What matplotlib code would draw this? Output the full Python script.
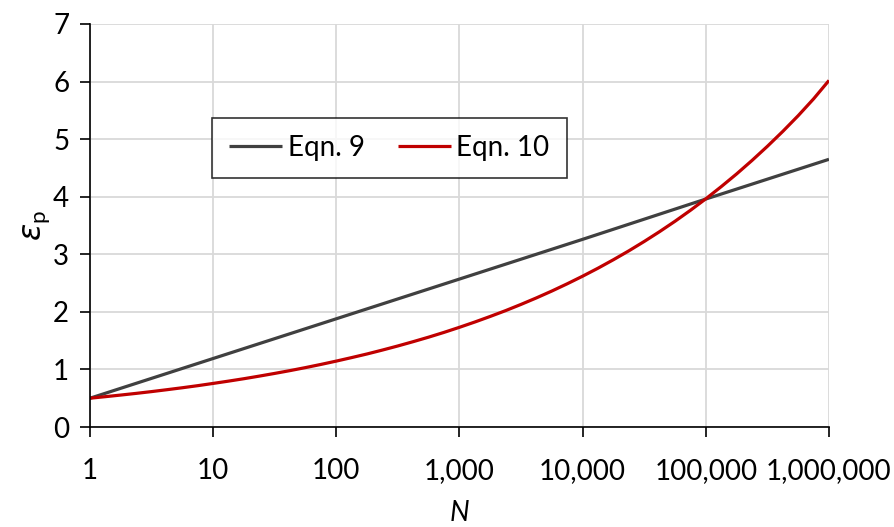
import matplotlib
matplotlib.use("Agg")
import matplotlib.pyplot as plt
from matplotlib.ticker import FuncFormatter, FixedLocator, NullLocator

# Data
N_eqn9 = [1, 10, 100, 1000, 10000, 100000, 1000000]
eps_eqn9 = [0.50, 1.19, 1.88, 2.57, 3.26, 3.96, 4.65]

# Eqn. 10 read at every 1/8 decade (log10 N)
logN_eqn10 = [0, 0.125, 0.25, 0.375, 0.5, 0.625, 0.75, 0.875,
              1, 1.125, 1.25, 1.375, 1.5, 1.625, 1.75, 1.875,
              2, 2.125, 2.25, 2.375, 2.5, 2.625, 2.75, 2.875,
              3, 3.125, 3.25, 3.375, 3.5, 3.625, 3.75, 3.875,
              4, 4.125, 4.25, 4.375, 4.5, 4.625, 4.75, 4.875,
              5, 5.125, 5.25, 5.375, 5.5, 5.625, 5.75, 5.875, 6]
eps_eqn10 = [0.500, 0.527, 0.555, 0.584, 0.615, 0.648, 0.682, 0.718,
             0.757, 0.797, 0.839, 0.884, 0.931, 0.980, 1.032, 1.087,
             1.145, 1.206, 1.269, 1.337, 1.408, 1.483, 1.561, 1.644,
             1.732, 1.824, 1.921, 2.022, 2.130, 2.243, 2.362, 2.488,
             2.620, 2.759, 2.906, 3.060, 3.223, 3.394, 3.574, 3.764,
             3.964, 4.175, 4.396, 4.630, 4.876, 5.135, 5.408, 5.700, 6.02]
N_eqn10 = [10 ** e for e in logN_eqn10]

x_ticks = [1, 10, 100, 1000, 10000, 100000, 1000000]
y_ticks = [0, 1, 2, 3, 4, 5, 6, 7]

plt.rcParams['font.family'] = ['Lato', 'DejaVu Sans']
plt.rcParams['mathtext.fontset'] = 'dejavusans'

fig = plt.figure(figsize=(8.95, 5.27), dpi=100)
ax = fig.add_axes([90/895, 1 - 427/527, 739/895, 403/527])

ax.plot(N_eqn9, eps_eqn9, color='#404040', lw=2.3, label='Eqn. 9', solid_capstyle='butt')
ax.plot(N_eqn10, eps_eqn10, color='#c00000', lw=2.3, label='Eqn. 10', solid_capstyle='butt')

ax.set_xscale('log')
ax.set_xlim(1, 1e6)
ax.set_ylim(0, 7)
ax.xaxis.set_major_locator(FixedLocator(x_ticks))
ax.xaxis.set_minor_locator(NullLocator())
ax.xaxis.set_major_formatter(FuncFormatter(lambda v, p: f"{int(round(v)):,}"))
ax.set_yticks(y_ticks)

ax.grid(True, color='#d9d9d9', lw=1.3)
ax.set_axisbelow(True)
for s in ['top', 'right']:
    ax.spines[s].set_visible(False)
for s in ['left', 'bottom']:
    ax.spines[s].set_color('black')
    ax.spines[s].set_linewidth(1.2)

ax.tick_params(axis='both', direction='out', length=7, width=1.2, colors='black',
               labelsize=20)
ax.tick_params(axis='x', pad=15)
ax.tick_params(axis='y', pad=8)

ax.set_xlabel('N', fontsize=20, style='italic', labelpad=12)
ax.set_ylabel(r'$\varepsilon_\mathregular{p}$', fontsize=23, labelpad=0)

leg = ax.legend(loc='center', bbox_to_anchor=(0.405, 0.692), ncol=2, fontsize=20,
                frameon=True, fancybox=False, edgecolor='black', handlelength=1.9,
                handletextpad=0.2, columnspacing=1.2, borderpad=0.62)
leg.get_frame().set_linewidth(1.2)

fig.savefig('out.png', dpi=100)
